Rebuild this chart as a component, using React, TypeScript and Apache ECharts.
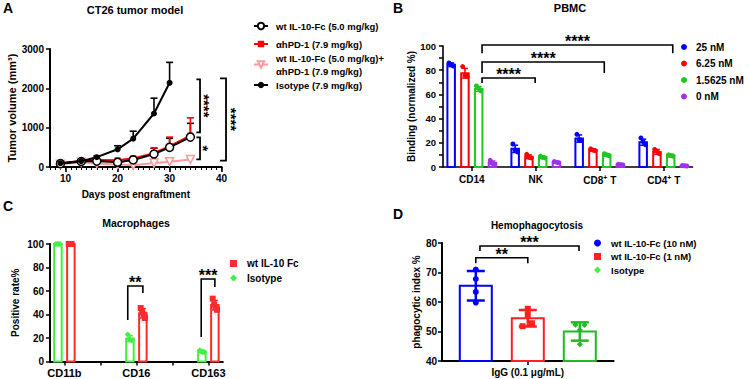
import React, { useEffect, useRef } from 'react';
import * as echarts from 'echarts';

const FONT = '"Liberation Sans", Arial, Helvetica, sans-serif';

// ---------------- Panel A : CT26 tumor model ----------------
const daysA = [9, 13, 16, 20, 23, 27, 30, 34];
const daysIso = [9, 13, 16, 20, 23, 27, 30];
const namesA = [
  'wt IL-10-Fc (5.0 mg/kg)',
  'αhPD-1 (7.9 mg/kg)',
  'wt IL-10-Fc (5.0 mg/kg)+αhPD-1 (7.9 mg/kg)',
  'Isotype (7.9 mg/kg)',
];
const wtMean = [85, 140, 150, 120, 180, 330, 500, 760];
const wtSem = [10, 15, 15, 20, 30, 150, 230, 350];
const pd1Mean = [95, 150, 180, 170, 220, 350, 530, 800];
const pd1Sem = [15, 20, 20, 25, 35, 130, 230, 450];
const comboMean = [70, 120, 90, 65, 45, 100, 135, 190];
const comboSem = [15, 20, 20, 10, 10, 15, 15, 30];
const isoMean = [95, 150, 250, 450, 720, 1360, 2140];
const isoSem = [15, 20, 30, 90, 190, 390, 520];
const xTicksA = [10, 20, 30, 40];
const sigLabelsA = ['****', '*', '****'];
const sigSpansA = [[2230, 880], [755, 195], [2255, 160]];

// ---------------- Panel B : PBMC ----------------
const cellsB = ['CD14', 'NK', 'CD8+ T', 'CD4+ T'];
const concB = ['25 nM', '6.25 nM', '1.5625 nM', '0 nM'];
const meanB = [
  [84.5, 15, 23.5, 20.5],
  [77.5, 8.5, 14, 12.5],
  [64.5, 8, 10, 9.5],
  [3.5, 4, 2, 1],
];
const sdB = [
  [1.5, 3, 3, 2.5],
  [4, 1.5, 1, 2],
  [2, 1, 1, 1],
  [1.5, 0.7, 0.5, 0.5],
];
const ptsB = [
  [[86, 84.5, 83.5], [19, 14, 12.5], [27, 22.5, 22], [24, 21, 18.5]],
  [[83, 75.5, 75], [10.5, 8, 7.5], [15, 14, 13.5], [14.5, 13, 11]],
  [[67, 65, 63], [9, 8, 7.5], [11, 10, 9.5], [10, 9.5, 9]],
  [[5.5, 3, 2], [4.5, 4, 3.5], [2.2, 2, 1.8], [1.2, 1, 0.8]],
];
const sigLabelsB = ['****', '****', '****'];

// ---------------- Panel C : Macrophages ----------------
const markersC = ['CD11b', 'CD16', 'CD163'];
const groupsC = ['wt IL-10 Fc', 'Isotype'];
const meanC = [
  [100, 41, 48],
  [100, 19.5, 8.5],
];
const sdC = [
  [0.3, 4, 4],
  [0.3, 2.5, 0.7],
];
const ptsC = [
  [[100, 100, 100], [45.5, 42, 40, 37], [53.5, 48.5, 46, 44]],
  [[100, 100, 100, 100], [23, 19, 18.5, 18], [9.5, 8.5, 8, 8]],
];
const sigLabelsC = ['**', '***'];

// ---------------- Panel D : Hemophagocytosis ----------------
const conditionD = ['IgG (0.1 μg/mL)'];
const groupsD = ['wt IL-10-Fc (10 nM)', 'wt IL-10-Fc (1 nM)', 'Isotype'];
const meanD = [65.5, 54.5, 50];
const sdD = [5, 2.8, 3.1];
const ptsD = [
  [71, 67.8, 63.4, 59.8],
  [57.7, 55.7, 52.8, 51.8],
  [52.3, 52.2, 50.5, 45.7],
];
const sigLabelsD = ['**', '***'];

// ---------------- styling / layout ----------------
const COL = {
  blue: '#0000ff', red: '#ff0000', green: '#1ec81e', purple: '#a032e6', pink: '#ff9a9a',
  greenC: '#44ee44', redC: '#ff2a2a', greenD: '#22b922', redD: '#ff2020',
};
const colorsB = [COL.blue, COL.red, COL.green, COL.purple];
const colorsC = [COL.redC, COL.greenC];
const symbolsC = ['rect', 'diamond'];
const colorsD = [COL.blue, COL.redD, COL.greenD];
const symbolsD = ['circle', 'rect', 'diamond'];

const offB = [-1.5, -0.5, 0.5, 1.5].map((k) => k * 0.215);
const jitB = [-0.035, 0, 0.035];
const offC = [0.09, -0.09];
const jitC = [-0.03, -0.01, 0.01, 0.03];
const offD = [-1, 0, 1];
const jitD = [
  [0, 0, 0, 0],
  [0, 0, 0.08, -0.1],
  [-0.085, 0.09, 0, 0],
];

const txt = (size: number, extra: any = {}) => ({
  fontFamily: FONT, fontWeight: 'bold', fontSize: size, color: '#000', ...extra,
});

const axisBase = (lw: number) => ({
  axisLine: { show: true, onZero: false, lineStyle: { color: '#000', width: lw } },
  axisTick: { show: true, length: 4, lineStyle: { color: '#000', width: 1.5 } },
  splitLine: { show: false },
});

function upErr(name: string, color: string, xs: number[], m: number[], s: number[]) {
  return {
    type: 'custom', name, xAxisIndex: 0, yAxisIndex: 0, z: 2, silent: true,
    data: xs.map((x, i) => [x, m[i], s[i]]),
    renderItem: (_p: any, api: any) => {
      const x = api.value(0), mv = api.value(1), sv = api.value(2);
      const a = api.coord([x, mv]);
      const b = api.coord([x, mv + sv]);
      return {
        type: 'group', children: [
          { type: 'line', shape: { x1: a[0], y1: a[1], x2: b[0], y2: b[1] }, style: { stroke: color, lineWidth: 1.6 } },
          { type: 'line', shape: { x1: b[0] - 3.5, y1: b[1], x2: b[0] + 3.5, y2: b[1] }, style: { stroke: color, lineWidth: 1.6 } },
        ],
      };
    },
  };
}

function bars(name: string, color: string, xs: number[], m: number[], s: number[], xi: number, yi: number,
  base: number, w: number, capW: number, lw: number, elw: number) {
  return {
    type: 'custom', name, xAxisIndex: xi, yAxisIndex: yi, z: 2, silent: true,
    data: xs.map((x, i) => [x, m[i], s[i]]),
    renderItem: (_p: any, api: any) => {
      const x = api.value(0), mv = api.value(1), sv = api.value(2);
      const t = api.coord([x, mv]);
      const b0 = api.coord([x, base]);
      const hi = api.coord([x, mv + sv]);
      const lo = api.coord([x, Math.max(base, mv - sv)]);
      return {
        type: 'group', children: [
          { type: 'rect', shape: { x: t[0] - w / 2, y: t[1], width: w, height: b0[1] - t[1] }, style: { fill: '#fff', stroke: color, lineWidth: lw } },
          { type: 'line', shape: { x1: hi[0], y1: hi[1], x2: lo[0], y2: lo[1] }, style: { stroke: color, lineWidth: elw } },
          { type: 'line', shape: { x1: hi[0] - capW / 2, y1: hi[1], x2: hi[0] + capW / 2, y2: hi[1] }, style: { stroke: color, lineWidth: elw } },
          { type: 'line', shape: { x1: lo[0] - capW / 2, y1: lo[1], x2: lo[0] + capW / 2, y2: lo[1] }, style: { stroke: color, lineWidth: elw } },
        ],
      };
    },
  };
}

function points(name: string, color: string, symbol: string, size: number, data: number[][], xi: number, yi: number) {
  return {
    type: 'scatter', name, xAxisIndex: xi, yAxisIndex: yi, z: 3, silent: true,
    symbol, symbolSize: size, itemStyle: { color, opacity: 1 }, data,
  };
}

type HB = { x1: number; x2: number; y: number; leg1: number; leg2: number; label: string };
function hBrackets(items: HB[], xi: number, yi: number, fontSize: number) {
  return {
    type: 'custom', xAxisIndex: xi, yAxisIndex: yi, z: 5, silent: true,
    data: items.map((b) => [b.x1, b.y]),
    renderItem: (p: any, api: any) => {
      const b = items[p.dataIndex];
      const p1 = api.coord([b.x1, b.leg1]);
      const p2 = api.coord([b.x1, b.y]);
      const p3 = api.coord([b.x2, b.y]);
      const p4 = api.coord([b.x2, b.leg2]);
      return {
        type: 'group', children: [
          { type: 'polyline', shape: { points: [p1, p2, p3, p4] }, style: { stroke: '#000', lineWidth: 1.6, fill: null } },
          {
            type: 'text', x: (p2[0] + p3[0]) / 2, y: p2[1] - 3.3,
            style: { text: b.label, fill: '#000', font: `bold ${fontSize}px ${FONT}`, align: 'center', verticalAlign: 'middle' },
          },
        ],
      };
    },
  };
}

type VB = { x: number; arm: number; y1: number; y2: number; label: string; dx: number };
function vBrackets(items: VB[]) {
  return {
    type: 'custom', xAxisIndex: 0, yAxisIndex: 0, z: 5, silent: true,
    data: items.map((b) => [b.x, b.y1]),
    renderItem: (p: any, api: any) => {
      const b = items[p.dataIndex];
      const a1 = api.coord([b.arm, b.y1]);
      const a2 = api.coord([b.x, b.y1]);
      const a3 = api.coord([b.x, b.y2]);
      const a4 = api.coord([b.arm, b.y2]);
      return {
        type: 'group', children: [
          { type: 'polyline', shape: { points: [a1, a2, a3, a4] }, style: { stroke: '#000', lineWidth: 1.8, fill: null } },
          {
            type: 'text', x: a2[0] + b.dx, y: (a2[1] + a3[1]) / 2, rotation: -Math.PI / 2,
            style: { text: b.label, fill: '#000', font: `bold 15px ${FONT}`, align: 'center', verticalAlign: 'middle' },
          },
        ],
      };
    },
  };
}

function buildOption(): any {
  const series: any[] = [];

  // ---- A ----
  const lineDefs = [
    { name: namesA[3], xs: daysIso, m: isoMean, s: isoSem, color: '#000', symbol: 'circle', size: 6, fill: '#000', rot: 0 },
    { name: namesA[0], xs: daysA, m: wtMean, s: wtSem, color: '#000', symbol: 'circle', size: 8, fill: '#fff', rot: 0 },
    { name: namesA[1], xs: daysA, m: pd1Mean, s: pd1Sem, color: COL.red, symbol: 'rect', size: 6, fill: COL.red, rot: 0 },
    { name: namesA[2], xs: daysA, m: comboMean, s: comboSem, color: COL.pink, symbol: 'triangle', size: 8, fill: '#fff', rot: 180 },
  ];
  const zOrder = [6, 5, 4, 3];
  lineDefs.forEach((d, i) => {
    series.push({
      type: 'line', name: d.name, xAxisIndex: 0, yAxisIndex: 0, z: zOrder[i], silent: true,
      data: d.xs.map((x, k) => [x, d.m[k]]),
      symbol: d.symbol, symbolSize: d.size, symbolRotate: d.rot, showSymbol: true,
      lineStyle: { color: d.color, width: 2 },
      itemStyle: { color: d.fill, borderColor: d.color, borderWidth: d.fill === '#fff' ? 1.5 : 0 },
    });
  });
  lineDefs.forEach((d) => series.push(upErr(d.name, d.color, d.xs, d.m, d.s)));
  series.push(vBrackets([
    { x: 35.85, arm: 35.15, y1: sigSpansA[0][0], y2: sigSpansA[0][1], label: sigLabelsA[0], dx: 4.4 },
    { x: 35.85, arm: 35.15, y1: sigSpansA[1][0], y2: sigSpansA[1][1], label: sigLabelsA[1], dx: 3.7 },
    { x: 40.85, arm: 39.7, y1: sigSpansA[2][0], y2: sigSpansA[2][1], label: sigLabelsA[2], dx: 5.4 },
  ]));

  // ---- B ----
  concB.forEach((name, i) => {
    const data = ptsB[i].flatMap((reps, j) => reps.map((v, k) => [j + offB[i] + jitB[k], v]));
    series.push(points(name, colorsB[i], 'circle', 5, data, 2, 1));
  });
  concB.forEach((name, i) => {
    series.push(bars(name, colorsB[i], cellsB.map((_c, j) => j + offB[i]), meanB[i], sdB[i], 2, 1, 0, 7.5, 6, 2, 1.5));
  });
  series.push(hBrackets([
    { x1: 0.16, x2: 3.14, y: 100.8, leg1: 94, leg2: 94, label: sigLabelsB[0] },
    { x1: 0.16, x2: 2.07, y: 86.8, leg1: 77.7, leg2: 77.7, label: sigLabelsB[1] },
    { x1: 0.16, x2: 0.99, y: 73.5, leg1: 69.4, leg2: 69.4, label: sigLabelsB[2] },
  ], 2, 1, 16));

  // ---- C ----
  groupsC.forEach((name, i) => {
    const data = ptsC[i].flatMap((reps, j) => reps.map((v, k) => [j + offC[i] + jitC[k], v]));
    series.push(points(name, colorsC[i], symbolsC[i], 6, data, 3, 2));
  });
  groupsC.forEach((name, i) => {
    series.push(bars(name, colorsC[i], markersC.map((_c, j) => j + offC[i]), meanC[i], sdC[i], 3, 2, 0, 7.5, 6, 2, 1.5));
  });
  series.push(hBrackets([
    { x1: 0.88, x2: 1.09, y: 64.3, leg1: 35.3, leg2: 58.3, label: sigLabelsC[0] },
    { x1: 1.9, x2: 2.09, y: 70.2, leg1: 20.9, leg2: 63.4, label: sigLabelsC[1] },
  ], 3, 2, 16));

  // ---- D ----
  groupsD.forEach((name, i) => {
    const data = ptsD[i].map((v, k) => [offD[i] + jitD[i][k], v]);
    series.push(points(name, colorsD[i], symbolsD[i], 6, data, 4, 3));
  });
  groupsD.forEach((name, i) => {
    series.push(bars(name, colorsD[i], [offD[i]], [meanD[i]], [sdD[i]], 4, 3, 40, 32, 18, 2, 2.5));
  });
  series.push(hBrackets([
    { x1: -1.0, x2: 0.0, y: 75.0, leg1: 73.1, leg2: 73.1, label: sigLabelsD[0] },
    { x1: -0.92, x2: 0.985, y: 79.0, leg1: 77.3, leg2: 77.3, label: sigLabelsD[1] },
  ], 4, 3, 16));

  const supLabel = (c: string) => c.replace(/^(CD\d)\+ (T)$/, '$1{sup|+} $2');
  const plain = (v: number) => String(v);

  const legendTopsA = [19.5, 37.5, 51.5, 78.5];

  return {
    animation: false,
    backgroundColor: '#fff',
    textStyle: { fontFamily: FONT },
    title: [
      { text: 'A', left: 3, top: 1, padding: 0, textStyle: txt(14) },
      { text: 'CT26 tumor model', left: 135, top: 4, padding: 0, textAlign: 'center', textStyle: txt(11) },
      { text: 'B', left: 393, top: 1, padding: 0, textStyle: txt(14) },
      { text: 'PBMC', left: 570, top: 2, padding: 0, textAlign: 'center', textStyle: txt(11) },
      { text: 'C', left: 3, top: 199, padding: 0, textStyle: txt(14) },
      { text: 'Macrophages', left: 136, top: 217, padding: 0, textAlign: 'center', textStyle: txt(10.5) },
      { text: 'D', left: 393, top: 207, padding: 0, textStyle: txt(14) },
      { text: 'Hemophagocytosis', left: 537, top: 220, padding: 0, textAlign: 'center', textStyle: txt(10) },
    ],
    legend: [
      ...namesA.map((n, i) => ({
        data: [n], left: 253, top: legendTopsA[i], orient: 'vertical', padding: 0, itemGap: 0,
        itemWidth: 14, itemHeight: 8, selectedMode: false,
        formatter: (name: string) => name.replace('+', '+\n'),
        textStyle: txt(9.5, { lineHeight: 13, padding: [0, 0, 0, 3] }),
      })),
      {
        data: concB, left: 681, top: 41, orient: 'vertical', padding: 0, itemGap: 4.5,
        itemWidth: 6, itemHeight: 6, selectedMode: false,
        textStyle: txt(10, { lineHeight: 12, padding: [0, 0, 0, 4] }),
      },
      {
        data: groupsC, left: 230, top: 258, orient: 'vertical', padding: 0, itemGap: 3.5,
        itemWidth: 7, itemHeight: 7, selectedMode: false,
        textStyle: txt(10, { lineHeight: 11, padding: [0, 0, 0, 5] }),
      },
      {
        data: groupsD, left: 594, top: 237, orient: 'vertical', padding: 0, itemGap: 1.5,
        itemWidth: 7, itemHeight: 7, selectedMode: false,
        textStyle: txt(9.5, { lineHeight: 12, padding: [0, 0, 0, 5] }),
      },
    ],
    grid: [
      { left: 50, top: 49, width: 171.6, height: 118, outerBoundsMode: 'none' },
      { left: 443, top: 46, width: 249.6, height: 121, outerBoundsMode: 'none' },
      { left: 50, top: 244, width: 172.8, height: 117.5, outerBoundsMode: 'none' },
      { left: 442, top: 243, width: 171.6, height: 118, outerBoundsMode: 'none' },
    ],
    xAxis: [
      {
        gridIndex: 0, type: 'value', position: 'bottom', min: 7, max: 40, ...axisBase(2),
        axisTick: { show: true, length: 5, customValues: xTicksA, lineStyle: { color: '#000', width: 1.6 } },
        axisLabel: { ...txt(10), margin: 6, customValues: xTicksA, formatter: plain },
        name: 'Days post engraftment', nameLocation: 'middle', nameGap: 22, nameTextStyle: txt(10),
      },
      {
        gridIndex: 0, type: 'value', position: 'bottom', min: 7, max: 40, interval: 1,
        axisLine: { show: false, onZero: false }, axisLabel: { show: false }, splitLine: { show: false },
        axisTick: { show: true, length: 3, lineStyle: { color: '#000', width: 1 } },
      },
      {
        gridIndex: 1, type: 'value', position: 'bottom', min: -0.45, max: 3.45, ...axisBase(1.6),
        axisTick: { show: true, length: 4, customValues: [0, 1, 2, 3], lineStyle: { color: '#000', width: 1.5 } },
        axisLabel: {
          ...txt(10), margin: 7, customValues: [0, 1, 2, 3],
          formatter: (v: number) => supLabel(cellsB[Math.round(v)]),
          rich: { sup: { ...txt(7), verticalAlign: 'top', padding: [0, 0, 5, 0] } },
        },
      },
      {
        gridIndex: 2, type: 'value', position: 'bottom', min: -0.2, max: 2.2, ...axisBase(2),
        axisTick: { show: true, length: 4, customValues: [0, 0.5, 1, 1.5, 2], lineStyle: { color: '#000', width: 1.5 } },
        axisLabel: { ...txt(11), margin: 6, customValues: [0, 1, 2], formatter: (v: number) => markersC[Math.round(v)] },
      },
      {
        gridIndex: 3, type: 'value', position: 'bottom', min: -1.65, max: 1.65, ...axisBase(2),
        axisTick: { show: true, length: 4, customValues: [0], lineStyle: { color: '#000', width: 1.5 } },
        axisLabel: { ...txt(10), margin: 6, customValues: [0], formatter: () => conditionD[0] },
      },
    ],
    yAxis: [
      {
        gridIndex: 0, type: 'value', min: 0, max: 3000, interval: 1000, ...axisBase(2),
        axisLabel: { ...txt(10), margin: 6, formatter: plain },
        name: 'Tumor volume (mm³)', nameLocation: 'middle', nameGap: 32, nameTextStyle: txt(11),
      },
      {
        gridIndex: 1, type: 'value', min: 0, max: 100, interval: 10, ...axisBase(1.6),
        axisLabel: { ...txt(9.5), margin: 7, formatter: (v: number) => (v % 20 === 0 ? String(v) : '') },
        name: 'Binding (normalized %)', nameLocation: 'middle', nameGap: 26, nameTextStyle: txt(10),
      },
      {
        gridIndex: 2, type: 'value', min: 0, max: 100, interval: 20, ...axisBase(2),
        axisLabel: { ...txt(10), margin: 6, formatter: plain },
        name: 'Positive rate%', nameLocation: 'middle', nameGap: 30, nameTextStyle: txt(10),
      },
      {
        gridIndex: 3, type: 'value', min: 40, max: 80, interval: 10, ...axisBase(2),
        axisLabel: { ...txt(10), margin: 5, formatter: plain },
        name: 'phagocytic index %', nameLocation: 'middle', nameGap: 19, nameTextStyle: txt(10),
      },
    ],
    series,
  };
}

export default function App() {
  const ref = useRef<HTMLDivElement>(null);
  useEffect(() => {
    const chart = echarts.init(ref.current as HTMLDivElement, null, { renderer: 'svg' });
    chart.setOption(buildOption());
    return () => chart.dispose();
  }, []);
  return (
    <div
      ref={ref}
      style={{ position: 'absolute', left: 0, top: 0, width: 749, height: 379, background: '#fff' }}
    />
  );
}
